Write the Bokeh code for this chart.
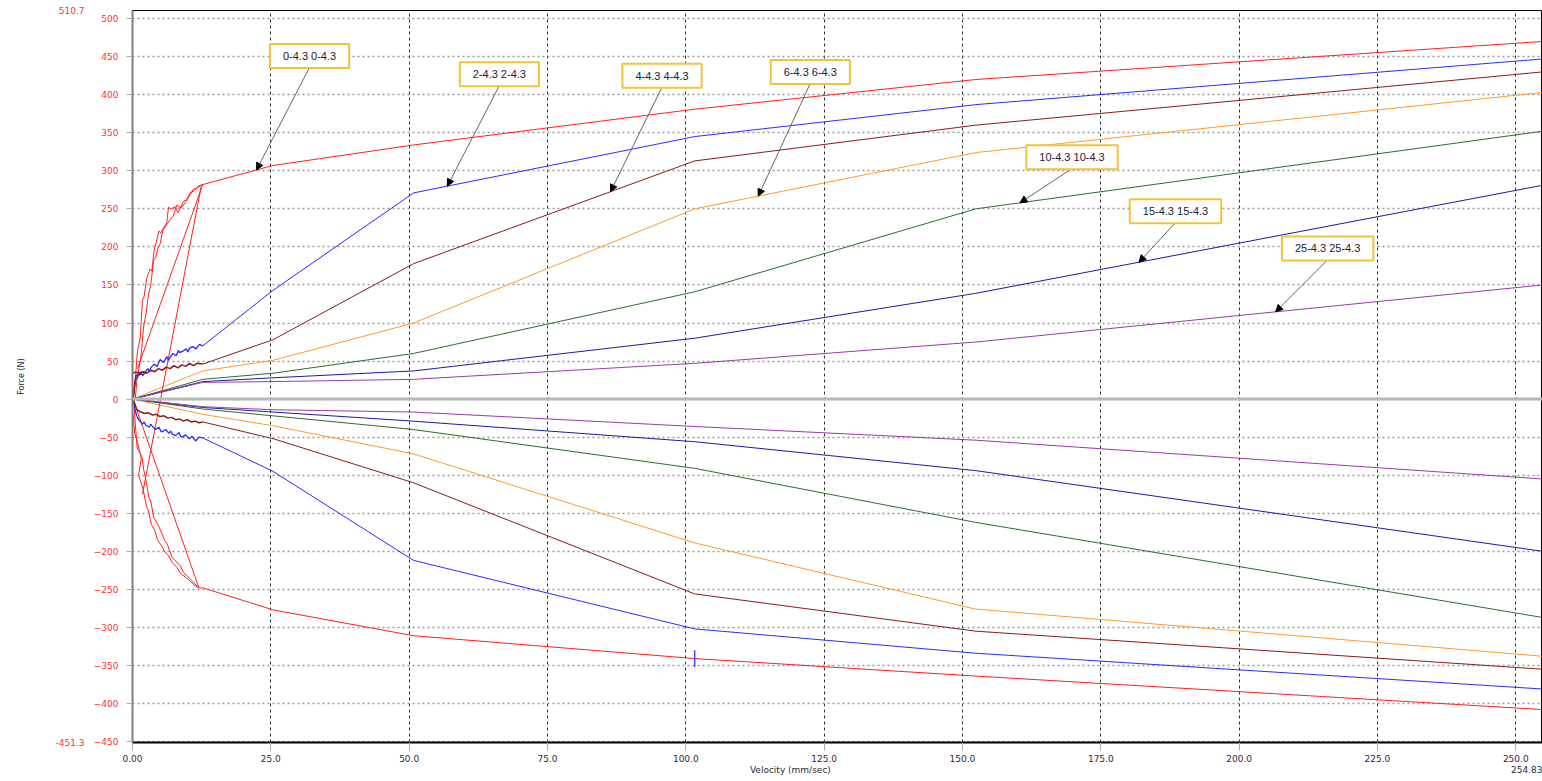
import numpy as np
from bokeh.plotting import figure
from bokeh.models import (Range1d, FixedTicker, Span, Label, Arrow, NormalHead,
                          CustomJSTickFormatter, LinearAxis)
from bokeh.embed import file_html
from bokeh.resources import INLINE

# ---------------- data ----------------
velocity_knots = [12.7, 25.4, 50.8, 101.6, 152.4, 254.83]
series_names = ["0-4.3 0-4.3", "2-4.3 2-4.3", "4-4.3 4-4.3", "6-4.3 6-4.3",
                "10-4.3 10-4.3", "15-4.3 15-4.3", "25-4.3 25-4.3"]
series_colors = ["#ff2020", "#2a2aff", "#8b1a1a", "#ff9a2e", "#2f6b2f", "#1c1c9c", "#9a3aa8"]

# rebound (positive) and compression (negative) forces at velocity_knots
red_reb = [282, 307, 334, 381, 420, 470]
red_comp = [-248, -277, -311, -341, -364, -408]
blue_reb = [70, 143, 271, 345, 387, 447]
blue_comp = [-51, -95, -212, -302, -334, -381]
brown_reb = [46, 78, 178, 313, 360, 430]
brown_comp = [-30, -52, -110, -256, -305, -355]
orange_reb = [37, 51, 100, 250, 324, 403]
orange_comp = [-20, -35, -72, -189, -276, -338]
green_reb = [26, 34, 60, 141, 250, 352]
green_comp = [-13, -22, -40, -91, -162, -287]
navy_reb = [23, 28, 37, 80, 139, 281]
navy_comp = [-11, -17, -29, -56, -94, -200]
purple_reb = [22, 23, 26, 47, 75, 150]
purple_comp = [-10, -14, -17, -36, -54, -105]

# measured low-speed (noisy) paths
red_lo_reb_v = [0.2, 0.5, 0.9, 1.1, 1.4, 1.8, 2.1, 2.6, 3.2, 3.5, 3.9, 4.8, 5.1, 5.6, 6.2, 6.5, 7.0, 7.7, 8.2, 8.6, 9.2, 9.8, 10.4, 11.2, 11.9, 12.7]
red_lo_reb_f = [0, 24, 64, 70, 81, 130, 135, 160, 171, 168, 195, 221, 218, 225, 232, 252, 250, 253, 245, 250, 260, 262, 271, 274, 280, 282]
red_lo_reb2_v = [0.5, 0.8, 1.2, 1.6, 2.0, 2.4, 2.9, 3.3, 3.8, 4.2, 4.6, 5.0, 5.5, 6.1, 6.8, 7.4, 8.0, 8.8, 9.5, 10.2, 11.0, 11.8, 12.7]
red_lo_reb2_f = [0, 25, 42, 60, 95, 110, 138, 150, 182, 186, 199, 204, 222, 228, 236, 241, 255, 251, 258, 266, 276, 278, 282]
red_lo_comp_v = [0.2, 0.5, 0.85, 1.3, 1.75, 2.0, 2.35, 2.95, 3.3, 3.85, 4.6, 5.35, 5.8, 6.25, 7.15, 7.6, 8.65, 9.2, 9.85, 10.4, 11.05, 11.95, 12.7]
red_lo_comp_f = [0, -33, -64, -70, -77, -92, -103, -129, -134, -156, -165, -177, -186, -190, -208, -211, -219, -228, -232, -236, -241, -248, -248]
red_lo_comp2_v = [0.1, 0.4, 1.0, 1.6, 1.1, 1.9, 2.5, 3.0, 3.4, 4.0, 4.5, 5.2, 5.8, 6.5, 7.2, 8.0, 8.8, 9.6, 10.5, 11.3, 12.0]
red_lo_comp2_f = [-20, -45, -60, -78, -100, -118, -140, -150, -165, -172, -185, -192, -200, -206, -215, -221, -230, -234, -240, -245, -248]
red_return_v = [12.7, 0.9]
red_return_f = [282, 40]
red_return2_v = [12.4, 1.8]
red_return2_f = [279, -125]
red_return3_v = [12.0, 0.1]
red_return3_f = [-248, 0]

blue_lo_reb_v = [0.1, 0.4, 0.7, 1.0, 1.5, 1.9, 2.2, 2.8, 3.1, 3.3, 3.9, 4.5, 4.8, 5.0, 5.6, 6.2, 6.5, 6.8, 7.3, 7.9, 8.3, 8.5, 9.1, 9.7, 10.0, 10.3, 10.9, 11.5, 12.1, 12.7]
blue_lo_reb_f = [0, 22, 27, 30, 34, 31, 35, 40, 36, 41, 46, 43, 49, 52, 48, 56, 51, 55, 60, 57, 64, 61, 63, 66, 62, 67, 69, 66, 72, 70]
blue_lo_comp_v = [0.1, 0.6, 0.9, 1.2, 1.8, 2.1, 2.4, 3.0, 3.3, 3.6, 4.2, 4.8, 5.1, 5.4, 6.0, 6.6, 6.9, 7.2, 7.8, 8.4, 8.7, 9.0, 9.6, 10.2, 10.8, 11.4, 12.0, 12.7]
blue_lo_comp_f = [0, -18, -24, -28, -33, -30, -34, -37, -33, -36, -40, -37, -42, -43, -40, -45, -42, -46, -48, -44, -49, -50, -47, -52, -49, -55, -50, -51]

brown_lo_reb_v = [0.1, 0.6, 1.2, 1.9, 2.6, 3.3, 4.0, 4.7, 5.4, 6.1, 6.8, 7.5, 8.2, 8.9, 9.6, 10.3, 11.0, 11.7, 12.7]
brown_lo_reb_f = [0, 30, 34, 36, 34, 38, 36, 40, 38, 42, 40, 44, 41, 45, 43, 47, 44, 47, 46]
brown_flat_v = [0.0, 2.5]
brown_flat_f = [35, 35]
brown_lo_comp_v = [0.1, 0.8, 1.5, 2.2, 2.9, 3.6, 4.3, 5.0, 5.7, 6.4, 7.1, 7.8, 8.5, 9.2, 9.9, 10.6, 11.3, 12.0, 12.7]
brown_lo_comp_f = [0, -14, -17, -19, -18, -21, -20, -23, -22, -25, -24, -27, -26, -29, -27, -30, -29, -31, -30]

cursor_v = [101.6, 101.6]
cursor_f = [-330, -352]

x_ticks = [0, 25, 50, 75, 100, 125, 150, 175, 200, 225, 250]
y_ticks = list(range(-450, 501, 50))
x_min, x_max = 0, 254.83
y_min, y_max = -451.3, 510.7
x_title = "Velocity (mm/sec)"
y_title = "Force (N)"

# ---------------- figure ----------------
p = figure(width=1542, height=780, x_range=Range1d(x_min, x_max), y_range=Range1d(y_min, y_max),
           output_backend="svg", toolbar_location=None,
           min_border_left=132, min_border_right=0, min_border_top=10, min_border_bottom=38)
p.outline_line_color = "black"
p.outline_line_width = 1
p.background_fill_color = "white"

p.xaxis.ticker = FixedTicker(ticks=x_ticks)
p.yaxis.ticker = FixedTicker(ticks=y_ticks)
p.xaxis.formatter = CustomJSTickFormatter(code="return tick == 0 ? '0.00' : tick.toFixed(1);")

p.xgrid.grid_line_color = "#333333"
p.xgrid.grid_line_dash = "3 3"
p.xgrid.grid_line_width = 1
p.ygrid.grid_line_color = "#999999"
p.ygrid.grid_line_dash = "2 3"
p.ygrid.grid_line_width = 1.5

FONT = "DejaVu Sans"
for ax in (p.xaxis[0], p.yaxis[0]):
    ax.minor_tick_line_color = None
    ax.major_tick_in = 0
    ax.major_label_text_font = FONT
    ax.major_label_text_font_size = "9px"

p.yaxis.axis_line_color = "#808080"
p.yaxis.axis_line_width = 2
p.yaxis.major_tick_out = 6
p.yaxis.major_tick_line_color = "#aaaaaa"
p.yaxis.major_label_text_color = "#ff3030"
p.yaxis.major_label_standoff = 8

# outer left axis: range extremes and axis title
y_ext = LinearAxis(ticker=FixedTicker(ticks=[y_max, y_min]),
                   formatter=CustomJSTickFormatter(code="return tick.toFixed(1);"),
                   axis_line_color=None, major_tick_line_color=None, minor_tick_line_color=None,
                   major_label_standoff=0, major_label_text_color="#ff3030",
                   major_label_text_font=FONT, major_label_text_font_size="9px",
                   axis_label=y_title, axis_label_standoff=26,
                   axis_label_text_font=FONT, axis_label_text_font_size="8px",
                   axis_label_text_font_style="normal", axis_label_text_color="#222222")
p.add_layout(y_ext, "left")

p.xaxis.axis_line_color = "black"
p.xaxis.axis_line_width = 2
p.xaxis.major_tick_out = 8
p.xaxis.major_tick_line_color = "#aaaaaa"
p.xaxis.major_label_text_color = "#2a2a3a"
p.xaxis.major_label_standoff = 4

# second row under the x axis: axis title and the range maximum
x_title_anchor = 118.9   # velocity under which the title text is centred (layout)
x_ext = LinearAxis(ticker=FixedTicker(ticks=[x_title_anchor, x_max]),
                   formatter=CustomJSTickFormatter(
                       args=dict(title=x_title, xmax=x_max),
                       code="return tick >= xmax - 1e-6 ? tick.toFixed(2) : title;"),
                   axis_line_color=None, major_tick_line_color=None, minor_tick_line_color=None,
                   major_tick_out=0, major_label_standoff=0,
                   major_label_text_align="right", major_label_text_color="#2a2a3a",
                   major_label_text_font=FONT, major_label_text_font_size="9px")
p.add_layout(x_ext, "below")

p.add_layout(Span(location=0, dimension="width", line_color="#b8b8b8", line_width=3))

# ---------------- lines ----------------
reb_all = [red_reb, blue_reb, brown_reb, orange_reb, green_reb, navy_reb, purple_reb]
comp_all = [red_comp, blue_comp, brown_comp, orange_comp, green_comp, navy_comp, purple_comp]

for i, (reb, comp, col) in enumerate(zip(reb_all, comp_all, series_colors)):
    if i < 3:
        vx = velocity_knots
        p.line(vx, reb, line_color=col, line_width=1)
        p.line(vx, comp, line_color=col, line_width=1)
    else:
        vx = [0] + velocity_knots
        p.line(vx, [0] + reb, line_color=col, line_width=1)
        p.line(vx, [0] + comp, line_color=col, line_width=1)

red, blue, brown = series_colors[0], series_colors[1], series_colors[2]
for vv, ff in [(red_lo_reb_v, red_lo_reb_f), (red_lo_reb2_v, red_lo_reb2_f),
               (red_lo_comp_v, red_lo_comp_f), (red_lo_comp2_v, red_lo_comp2_f),
               (red_return_v, red_return_f), (red_return2_v, red_return2_f),
               (red_return3_v, red_return3_f)]:
    p.line(vv, ff, line_color=red, line_width=1)
for vv, ff in [(blue_lo_reb_v, blue_lo_reb_f), (blue_lo_comp_v, blue_lo_comp_f)]:
    p.line(vv, ff, line_color=blue, line_width=1.3)
for vv, ff in [(brown_lo_reb_v, brown_lo_reb_f), (brown_lo_comp_v, brown_lo_comp_f),
               (brown_flat_v, brown_flat_f)]:
    p.line(vv, ff, line_color=brown, line_width=1.5)
p.line(cursor_v, cursor_f, line_color="#4040ff", line_width=1.5)

# ---------------- callouts ----------------
# (box centre velocity, box centre force, arrow-tip velocity) -- layout only
callout_layout = [(32.0, 451, 22.4), (66.3, 427, 56.9), (95.7, 425, 86.4), (122.5, 430, 113.1),
                  (169.8, 318, 160.4), (188.5, 247, 181.9), (216.0, 198, 206.6)]
pad = dict(left=13, right=13, top=6, bottom=6)
for name, reb, lay in zip(series_names, reb_all, callout_layout):
    cx, cy, tip_v = lay
    tip_f = float(np.interp(tip_v, velocity_knots, reb))
    p.add_layout(Arrow(end=NormalHead(size=7, fill_color="black", line_color="black"),
                       x_start=cx, y_start=cy - 15, x_end=tip_v, y_end=tip_f,
                       line_color="#666666", line_width=1))
    p.add_layout(Label(x=cx, y=cy, x_offset=3, y_offset=-3, text=name, text_alpha=0,
                       text_align="center", text_baseline="middle",
                       background_fill_color="#888888", background_fill_alpha=0.35,
                       padding=pad, text_font="Liberation Sans", text_font_size="11px"))
    p.add_layout(Label(x=cx, y=cy, text=name, text_color="#1a1a33",
                       text_align="center", text_baseline="middle",
                       background_fill_color="white", border_line_color="#f2c23a",
                       border_line_width=2, padding=pad,
                       text_font="Liberation Sans", text_font_size="11px"))

open("out.html", "w").write(file_html(p, INLINE))
